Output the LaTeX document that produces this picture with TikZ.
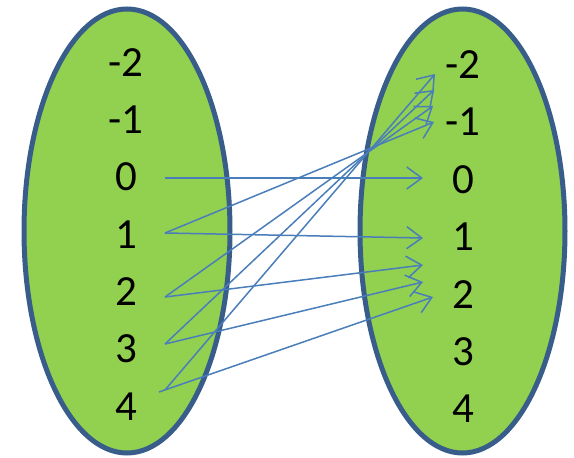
\documentclass[tikz,border=0pt]{standalone}
\usepackage{fontspec}
\setmainfont{Carlito}
\usetikzlibrary{arrows.meta}
\definecolor{setgreen}{HTML}{92D050}
\definecolor{setedge}{HTML}{385D8A}
\definecolor{arrowblue}{HTML}{4A7EBB}
\tikzset{
  setbox/.style={draw=setedge, line width=5pt, fill=setgreen},
  lbl/.style={inner sep=0pt, font=\fontsize{43}{50}\selectfont},
  maparrow/.style={draw=arrowblue, line width=1.5pt, -{Straight Barb[length=15pt,width=22pt]}},
}
\begin{document}
\begin{tikzpicture}[x=1pt,y=-1pt]
\useasboundingbox (0,0) rectangle (574,458);
\draw[setbox] (127,231) ellipse [x radius=103pt, y radius=222pt];
\draw[setbox] (462.5,231) ellipse [x radius=102.5pt, y radius=222pt];
% left labels
\node[lbl] (Lm2) at (126,63) {-2};
\node[lbl] (Lm1) at (126,120) {-1};
\node[lbl] (L0) at (126,177) {0};
\node[lbl] (L1) at (126,235) {1};
\node[lbl] (L2) at (126,292) {2};
\node[lbl] (L3) at (126,349) {3};
\node[lbl] (L4) at (126,407) {4};
% right labels
\node[lbl] (Rm2) at (463,65) {-2};
\node[lbl] (Rm1) at (463,122) {-1};
\node[lbl] (R0) at (463,180) {0};
\node[lbl] (R1) at (463,237) {1};
\node[lbl] (R2) at (463,295) {2};
\node[lbl] (R3) at (463,352) {3};
\node[lbl] (R4) at (463,409) {4};
% arrow end points
\coordinate (s0) at (165,178);
\coordinate (s1) at (165,233);
\coordinate (s2) at (165,297);
\coordinate (s3) at (165,344);
\coordinate (s4) at (165,390);
\coordinate (s4b) at (159,392);
\coordinate (t0) at (423,178);
\coordinate (t1) at (423,238);
\coordinate (t2) at (423,265);
\coordinate (t3) at (423,282);
\coordinate (t4) at (433,297);
\coordinate (u1) at (434,122);
\coordinate (u2) at (433,106);
\coordinate (u3) at (434,90);
\coordinate (u4) at (435,74);
% arrows
\draw[maparrow] (s0) -- (t0);
\draw[maparrow] (s1) -- (t1);
\draw[maparrow] (s1) -- (u1);
\draw[maparrow] (s2) -- (t2);
\draw[maparrow] (s2) -- (u2);
\draw[maparrow] (s3) -- (t3);
\draw[maparrow] (s3) -- (u3);
\draw[maparrow] (s4b) -- (t4);
\draw[maparrow] (s4) -- (u4);
\end{tikzpicture}
\end{document}
